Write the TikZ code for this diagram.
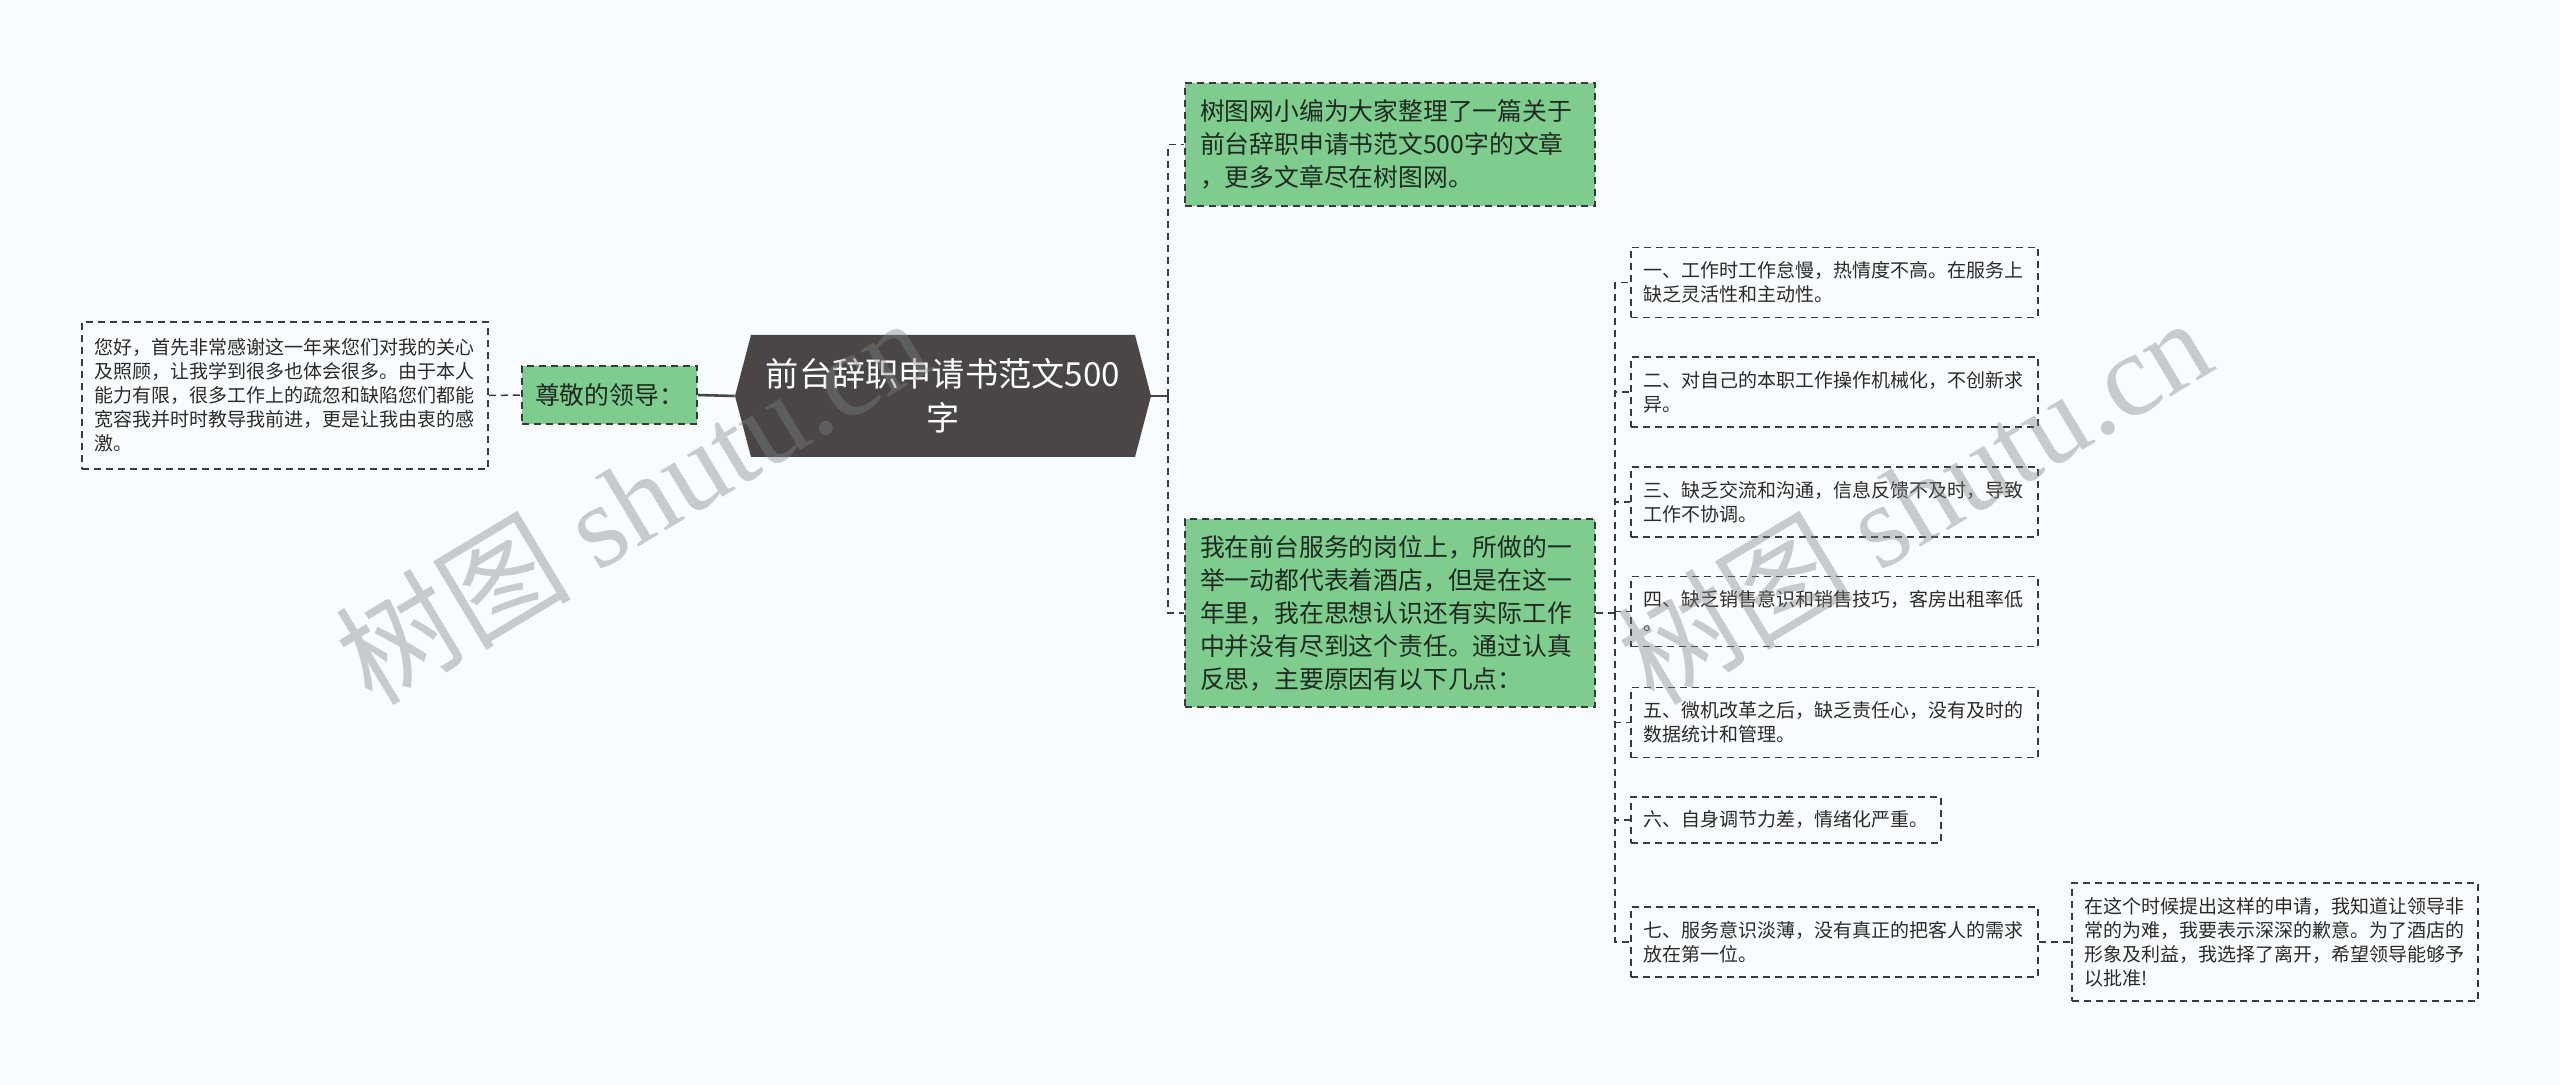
\documentclass[tikz,border=0pt]{standalone}
\usepackage{fontspec}
\setmainfont{Noto Sans CJK SC}
\newfontfamily\markfont{Liberation Serif}

\begin{document}
\begin{tikzpicture}[x=0.5pt,y=-0.5pt,
  dashbox/.style={draw=lineGray, line width=0.75pt, dash pattern=on 3.5pt off 2.5pt, align=left},
  leafbox/.style={dashbox, text=textGray, font=\fontsize{9.5pt}{12pt}\selectfont, text width=191pt, inner xsep=6.25pt},
  greenbox/.style={dashbox, fill=nodeGreen, text=textGreen, font=\fontsize{12.4pt}{16.5pt}\selectfont},
  linkline/.style={draw=lineGray, line width=0.75pt, dash pattern=on 3.5pt off 2.5pt},
  stemline/.style={draw=rootDark, line width=1.3pt},
  wmark/.style={text=markGray, text opacity=0.4, font=\fontsize{59pt}{59pt}\selectfont, anchor=base west, rotate=31, inner sep=0pt}]
\definecolor{pageBg}{HTML}{F8FCFE}
\definecolor{nodeGreen}{HTML}{7ECD8F}
\definecolor{rootDark}{HTML}{4A4646}
\definecolor{lineGray}{HTML}{3A3A3A}
\definecolor{textGray}{HTML}{2B2B2B}
\definecolor{textGreen}{HTML}{1E2A20}
\definecolor{markGray}{HTML}{7F8285}
\fill[pageBg] (0,0) rectangle (2560,1085);

% left side
\node[leafbox, inner xsep=6pt, minimum height=73.5pt] (thanks) at (285,395.5)
  {您好，首先非常感谢这一年来您们对我的关心\\及照顾，让我学到很多也体会很多。由于本人\\能力有限，很多工作上的疏忽和缺陷您们都能\\宽容我并时时教导我前进，更是让我由衷的感\\激。};
\node[greenbox, align=center, inner xsep=0pt, minimum width=87.5pt, minimum height=29pt] (greeting) at (609.5,395) {尊敬的领导：};

% centre
\node[minimum width=208pt, minimum height=61pt, inner sep=0pt, fill=pageBg, text=white, align=center,
  font=\fontsize{16.6pt}{22pt}\selectfont,
  path picture={\fill[rootDark] (path picture bounding box.west) -- ([xshift=8pt]path picture bounding box.north west)
    -- ([xshift=-8pt]path picture bounding box.north east) -- (path picture bounding box.east)
    -- ([xshift=-8pt]path picture bounding box.south east) -- ([xshift=8pt]path picture bounding box.south west) -- cycle;}]
  (root) at (943,396) {前台辞职申请书范文500\\字};

% right side
\node[greenbox, text width=190pt, inner xsep=7.5pt, minimum height=61.5pt] (intro) at (1390,144.5)
  {树图网小编为大家整理了一篇关于\\前台辞职申请书范文500字的文章\\，更多文章尽在树图网。};
\node[greenbox, text width=190pt, inner xsep=7.5pt, minimum height=94pt] (reflect) at (1390,613)
  {我在前台服务的岗位上，所做的一\\举一动都代表着酒店，但是在这一\\年里，我在思想认识还有实际工作\\中并没有尽到这个责任。通过认真\\反思，主要原因有以下几点：};

\node[leafbox, minimum height=35pt] (reason1) at (1834.5,282.5) {一、工作时工作怠慢，热情度不高。在服务上\\缺乏灵活性和主动性。};
\node[leafbox, minimum height=35pt] (reason2) at (1834.5,392) {二、对自己的本职工作操作机械化，不创新求\\异。};
\node[leafbox, minimum height=35pt] (reason3) at (1834.5,502) {三、缺乏交流和沟通，信息反馈不及时，导致\\工作不协调。};
\node[leafbox, minimum height=35pt] (reason4) at (1834.5,611.5) {四、缺乏销售意识和销售技巧，客房出租率低\\。};
\node[leafbox, minimum height=35pt] (reason5) at (1834.5,722.5) {五、微机改革之后，缺乏责任心，没有及时的\\数据统计和管理。};
\node[leafbox, text width=143pt, inner xsep=6pt, minimum height=23pt] (reason6) at (1786,820) {六、自身调节力差，情绪化严重。};
\node[leafbox, minimum height=35pt] (reason7) at (1834.5,942) {七、服务意识淡薄，没有真正的把客人的需求\\放在第一位。};
\node[leafbox, inner xsep=6pt, minimum height=59pt] (apology) at (2275,942)
  {在这个时候提出这样的申请，我知道让领导非\\常的为难，我要表示深深的歉意。为了酒店的\\形象及利益，我选择了离开，希望领导能够予\\以批准!};

% connectors
\draw[linkline] (thanks.east) -- (greeting.west);
\draw[stemline] (greeting.east) -- (root.west);
\coordinate (rootfork) at (1168,396);
\draw[stemline] (root.east) -- (rootfork);
\draw[linkline] (rootfork) |- (intro.west);
\draw[linkline] (rootfork) |- (reflect.west);
\coordinate (reasonfork) at (1615,613);
\draw[linkline] (reflect.east) -- (reasonfork);
\foreach \n in {1,...,7} {
  \draw[linkline] (reasonfork) |- (reason\n.west);
}
\draw[linkline] (reason7.east) -- ++(17,0) |- (apology.west);

% watermarks
\node[wmark] (markLeft) at (372,708) {树图 {\markfont shutu.cn}};
\node[wmark] (markRight) at (1654,708) {树图 {\markfont shutu.cn}};
\end{tikzpicture}
\end{document}
